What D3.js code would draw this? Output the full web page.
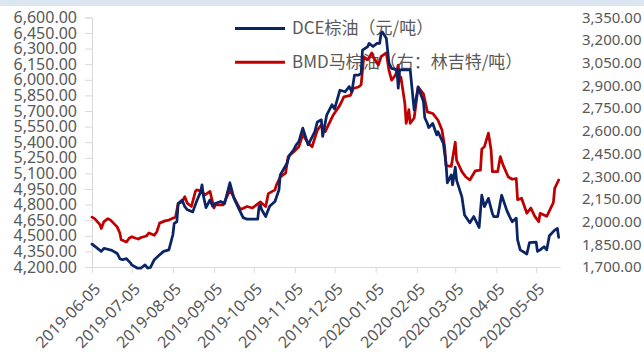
<!DOCTYPE html>
<html>
<head>
<meta charset="utf-8">
<script src="https://cdn.jsdelivr.net/npm/d3@7"></script>
<style>
  html, body { margin: 0; padding: 0; background: #ffffff; }
  svg { display: block; }
  .tick text { fill: #595959; }
</style>
</head>
<body>
<svg id="chart" width="644" height="352"></svg>
<script>
// DCE palm oil futures (yuan/ton), left axis
const dceDates = [
  "2019-06-05","2019-06-07","2019-06-12","2019-06-14","2019-06-20","2019-06-24","2019-06-26","2019-06-28",
  "2019-07-01","2019-07-04","2019-07-05","2019-07-09","2019-07-12","2019-07-15","2019-07-17","2019-07-19",
  "2019-07-22","2019-07-25","2019-07-29","2019-08-02","2019-08-05","2019-08-06","2019-08-08","2019-08-09",
  "2019-08-12","2019-08-14","2019-08-16","2019-08-20","2019-08-23","2019-08-26","2019-08-27","2019-08-28",
  "2019-08-30","2019-09-02","2019-09-04","2019-09-06","2019-09-10","2019-09-13","2019-09-17","2019-09-20",
  "2019-09-23","2019-09-27","2019-09-30","2019-10-08","2019-10-09","2019-10-10","2019-10-11","2019-10-14",
  "2019-10-17","2019-10-21","2019-10-24","2019-10-25","2019-10-30","2019-11-01","2019-11-04","2019-11-06",
  "2019-11-08","2019-11-11","2019-11-13","2019-11-15","2019-11-20","2019-11-22","2019-11-25","2019-11-26",
  "2019-11-29","2019-12-03","2019-12-05","2019-12-09","2019-12-13","2019-12-16","2019-12-18","2019-12-20",
  "2019-12-23","2019-12-25","2019-12-26","2019-12-30","2019-12-31","2020-01-03","2020-01-06","2020-01-08",
  "2020-01-09","2020-01-10","2020-01-13","2020-01-15","2020-01-17","2020-01-21","2020-01-22","2020-01-23",
  "2020-01-31","2020-02-03","2020-02-06","2020-02-10","2020-02-11","2020-02-13","2020-02-14","2020-02-17",
  "2020-02-20","2020-02-21","2020-02-25","2020-02-27","2020-02-28","2020-03-02","2020-03-03","2020-03-05",
  "2020-03-06","2020-03-10","2020-03-12","2020-03-16","2020-03-19","2020-03-23","2020-03-25","2020-03-27",
  "2020-03-30","2020-04-02","2020-04-03","2020-04-06","2020-04-09","2020-04-13","2020-04-15","2020-04-17",
  "2020-04-20","2020-04-21","2020-04-23","2020-04-28","2020-04-30","2020-05-05","2020-05-06","2020-05-08",
  "2020-05-11","2020-05-13","2020-05-15","2020-05-19","2020-05-21","2020-05-22"
];
const dceValues = [
  4420,4400,4350,4380,4360,4330,4280,4270,
  4280,4240,4220,4190,4190,4220,4190,4195,
  4270,4305,4350,4365,4510,4620,4635,4810,
  4845,4780,4750,4730,4835,4925,4990,4885,
  4770,4845,4785,4810,4830,4810,5010,4865,
  4780,4675,4660,4660,4780,4795,4750,4685,
  4785,4830,4940,5085,5195,5275,5325,5375,
  5405,5535,5455,5375,5500,5595,5615,5455,
  5660,5760,5720,5900,5885,5935,5885,6045,
  6045,6060,6285,6320,6350,6320,6350,6350,
  6445,6460,6400,6160,6110,6095,5920,6095,
  6095,5710,5930,5790,5635,5580,5540,5580,
  5470,5500,5390,5200,5010,5085,4990,5160,
  5035,4875,4700,4625,4685,4580,4890,4780,
  4860,4715,4685,4685,4890,4740,4685,4635,
  4670,4460,4365,4325,4435,4440,4350,4365,
  4395,4365,4500,4555,4570,4485
];

// BMD crude palm oil futures (ringgit/ton), right axis
const bmdDates = [
  "2019-06-05","2019-06-07","2019-06-11","2019-06-12","2019-06-14","2019-06-17","2019-06-19","2019-06-24",
  "2019-06-26","2019-06-27","2019-07-01","2019-07-03","2019-07-05","2019-07-08","2019-07-10","2019-07-12",
  "2019-07-16","2019-07-18","2019-07-22","2019-07-24","2019-07-26","2019-07-30","2019-08-02","2019-08-07",
  "2019-08-09","2019-08-12","2019-08-14","2019-08-16","2019-08-19","2019-08-22","2019-08-23","2019-08-27",
  "2019-08-29","2019-09-02","2019-09-05","2019-09-06","2019-09-12","2019-09-17","2019-09-23","2019-09-25",
  "2019-09-30","2019-10-04","2019-10-10","2019-10-14","2019-10-16","2019-10-21","2019-10-22","2019-10-25",
  "2019-10-29","2019-10-31","2019-11-04","2019-11-08","2019-11-11","2019-11-15","2019-11-18","2019-11-22",
  "2019-11-25","2019-11-28","2019-11-29","2019-12-04","2019-12-09","2019-12-12","2019-12-17","2019-12-19",
  "2019-12-23","2019-12-25","2019-12-27","2019-12-30","2020-01-02","2020-01-03","2020-01-07","2020-01-09",
  "2020-01-13","2020-01-15","2020-01-17","2020-01-20","2020-01-22","2020-01-23","2020-01-24","2020-01-27",
  "2020-01-28","2020-01-30","2020-01-31","2020-02-03","2020-02-06","2020-02-10","2020-02-11","2020-02-13",
  "2020-02-17","2020-02-21","2020-02-24","2020-02-26","2020-02-27","2020-03-02","2020-03-05","2020-03-06",
  "2020-03-10","2020-03-13","2020-03-16","2020-03-20","2020-03-24","2020-03-25","2020-03-27","2020-03-30",
  "2020-04-01","2020-04-02","2020-04-06","2020-04-08","2020-04-10","2020-04-14","2020-04-17","2020-04-20",
  "2020-04-21","2020-04-24","2020-04-28","2020-05-01","2020-05-04","2020-05-07","2020-05-08","2020-05-13",
  "2020-05-18","2020-05-19","2020-05-22"
];
const bmdValues = [
  2030,2020,1980,1955,2000,2020,2010,1965,
  1925,1880,1865,1890,1900,1890,1885,1895,
  1905,1925,1910,1935,1990,2005,2010,2030,
  2120,2130,2165,2120,2100,2200,2210,2200,
  2175,2200,2090,2110,2110,2210,2110,2080,
  2100,2090,2130,2100,2185,2210,2240,2295,
  2320,2430,2460,2495,2575,2520,2495,2605,
  2640,2595,2615,2705,2770,2825,2835,2880,
  2890,2905,3090,3070,3115,3090,3035,3090,
  3115,3000,2935,2970,3035,2930,2955,2780,
  2650,2740,2650,2685,2890,2845,2805,2725,
  2715,2670,2605,2495,2370,2365,2525,2405,
  2330,2295,2275,2335,2340,2480,2495,2585,
  2475,2330,2330,2430,2375,2295,2280,2285,
  2145,2155,2055,2090,2035,2000,2055,2035,
  2125,2220,2275
];

// Axis ticks and labels
const leftTicks = [4200,4350,4500,4650,4800,4950,5100,5250,5400,5550,5700,5850,6000,6150,6300,6450,6600];
const rightTicks = [1700,1850,2000,2150,2300,2450,2600,2750,2900,3050,3200,3350];
const xTickLabels = ["2019-06-05","2019-07-05","2019-08-05","2019-09-05","2019-10-05","2019-11-05",
  "2019-12-05","2020-01-05","2020-02-05","2020-03-05","2020-04-05","2020-05-05"];
const seriesNames = ["DCE棕油（元/吨）", "BMD马棕油（右：林吉特/吨）"];

const parse = d3.utcParse("%Y-%m-%d");
const svg = d3.select("#chart");
const W = 644, H = 352;
const plot = { left: 92, right: 560, top: 17.4, bottom: 267 };
const axisGrey = "#d9d9d9";
const textGrey = "#595959";
const blue = "#0b2466", red = "#c00000";
const numFont = "'Noto Sans', 'Open Sans', sans-serif";
const cjkFont = "'Noto Sans CJK SC', 'Noto Sans', sans-serif";

svg.append("rect").attr("width", W).attr("height", H).attr("fill", "#ffffff");
svg.append("rect").attr("width", W).attr("height", 6).attr("fill", "#dce6f2");

const x = d3.scaleUtc()
  .domain([parse("2019-06-05"), parse("2020-05-23")])
  .range([plot.left, plot.right]);
const yL = d3.scaleLinear().domain([4200, 6600]).range([plot.bottom, plot.top]);
const yR = d3.scaleLinear().domain([1700, 3350]).range([plot.bottom, plot.top]);

// Left axis with outward ticks
const gL = svg.append("g")
  .attr("transform", `translate(${plot.left},0)`)
  .call(d3.axisLeft(yL).tickValues(leftTicks).tickFormat(d3.format(",.2f")).tickSize(7).tickPadding(8));
gL.select(".domain").attr("stroke", axisGrey);
gL.selectAll(".tick line").attr("stroke", axisGrey);
gL.selectAll(".tick text").attr("font-family", numFont).attr("font-size", 16).attr("fill", textGrey);

// Right axis: labels only
const gR = svg.append("g")
  .attr("transform", `translate(${plot.right},0)`)
  .call(d3.axisRight(yR).tickValues(rightTicks).tickFormat(d3.format(",.2f")).tickSize(0).tickPadding(22));
gR.select(".domain").remove();
gR.selectAll(".tick text").attr("font-family", numFont).attr("font-size", 15).attr("fill", textGrey);

// Bottom date axis with rotated labels
const gX = svg.append("g")
  .attr("transform", `translate(0,${plot.bottom})`)
  .call(d3.axisBottom(x).tickValues(xTickLabels.map(parse)).tickFormat(d3.utcFormat("%Y-%m-%d")).tickSize(6).tickSizeOuter(0));
gX.select(".domain").attr("stroke", axisGrey);
gX.selectAll(".tick line").attr("stroke", axisGrey);
gX.selectAll(".tick text")
  .attr("font-family", numFont).attr("font-size", 16).attr("fill", textGrey)
  .attr("text-anchor", "end")
  .attr("x", 0).attr("y", 0).attr("dy", "0.35em")
  .attr("transform", "translate(5,19) rotate(-45)");

// Legend (drawn beneath the lines)
const legend = svg.append("g");
const legendRows = [{ name: seriesNames[0], color: blue, y: 28.5 }, { name: seriesNames[1], color: red, y: 62.3 }];
legendRows.forEach(r => {
  legend.append("line").attr("x1", 235).attr("x2", 285).attr("y1", r.y).attr("y2", r.y)
    .attr("stroke", r.color).attr("stroke-width", 3);
  legend.append("text").attr("x", 292).attr("y", r.y).attr("dy", "0.35em")
    .attr("font-family", cjkFont).attr("font-size", 17).attr("fill", textGrey).text(r.name);
});

// Series lines
const dce = dceDates.map((d, i) => ({ date: parse(d), value: dceValues[i] }));
const bmd = bmdDates.map((d, i) => ({ date: parse(d), value: bmdValues[i] }));

svg.append("path").datum(bmd)
  .attr("fill", "none").attr("stroke", red).attr("stroke-width", 2.75)
  .attr("stroke-linejoin", "round").attr("stroke-linecap", "round")
  .attr("d", d3.line().x(d => x(d.date)).y(d => yR(d.value)));

svg.append("path").datum(dce)
  .attr("fill", "none").attr("stroke", blue).attr("stroke-width", 2.75)
  .attr("stroke-linejoin", "round").attr("stroke-linecap", "round")
  .attr("d", d3.line().x(d => x(d.date)).y(d => yL(d.value)));
</script>
</body>
</html>
